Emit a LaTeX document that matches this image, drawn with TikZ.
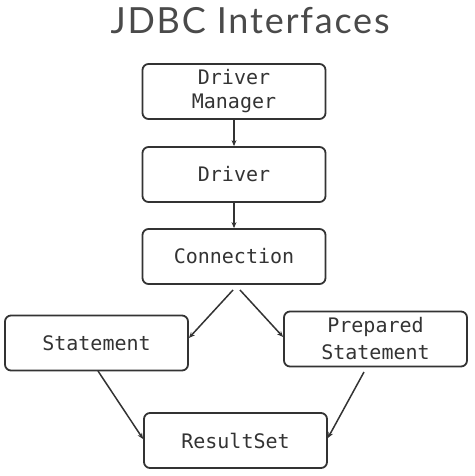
\documentclass[tikz,border=0pt]{standalone}
\usepackage{fontspec}
\setmainfont{Lato}
\newfontfamily\titlefont[LetterSpace=5]{Lato}
\newfontfamily\boxfont{DejaVu Sans Mono}
\usepackage{xcolor}
\usetikzlibrary{positioning,arrows.meta}

\definecolor{inkgray}{HTML}{333333}
\definecolor{titlegray}{HTML}{4A4A4A}

\tikzset{
    iface/.style={draw=inkgray, line width=1.8pt, rounded corners=6pt, minimum width=183pt, minimum height=55pt, align=center, inner sep=0pt, text=inkgray, font=\boxfont\fontsize{20}{24}\selectfont},
    flow/.style={draw=inkgray, line width=1.5pt, -{Stealth[length=6pt,width=5pt]}}
}

\begin{document}
\begin{tikzpicture}[x=1pt, y=-1pt]
    \useasboundingbox (0,0) rectangle (474,476);

    % Title
    \node[text=titlegray, font=\titlefont\fontsize{36}{40}\selectfont] (title) at (250,21) {JDBC Interfaces};

    % Interface boxes
    \node[iface] (mgr) at (234,91.5) {Driver\\Manager};
    \node[iface] (drv) at (234,174.5) {Driver};
    \node[iface] (conn) at (234,256.5) {Connection};
    \node[iface] (stmt) at (96.5,343) {Statement};
    \node[iface, font=\boxfont\fontsize{20}{27}\selectfont] (pstmt) at (375.5,339) {Prepared\\Statement};
    \node[iface] (rs) at (235.5,440.5) {ResultSet};

    % Free ends of the slanted connectors
    \coordinate (connL) at (233,290);
    \coordinate (connR) at (240,290);
    \coordinate (stmtB) at (98,371);
    \coordinate (pstmtB) at (364,372);

    % Connectors
    \draw[flow] (mgr) -- (drv);
    \draw[flow] (drv) -- (conn);
    \draw[flow] (connL) -- (stmt.east |- 0,338);
    \draw[flow] (connR) -- (pstmt.west |- 0,337);
    \draw[flow] (stmtB) -- (rs.west |- 0,439);
    \draw[flow] (pstmtB) -- (rs.east |- 0,438);
\end{tikzpicture}
\end{document}
